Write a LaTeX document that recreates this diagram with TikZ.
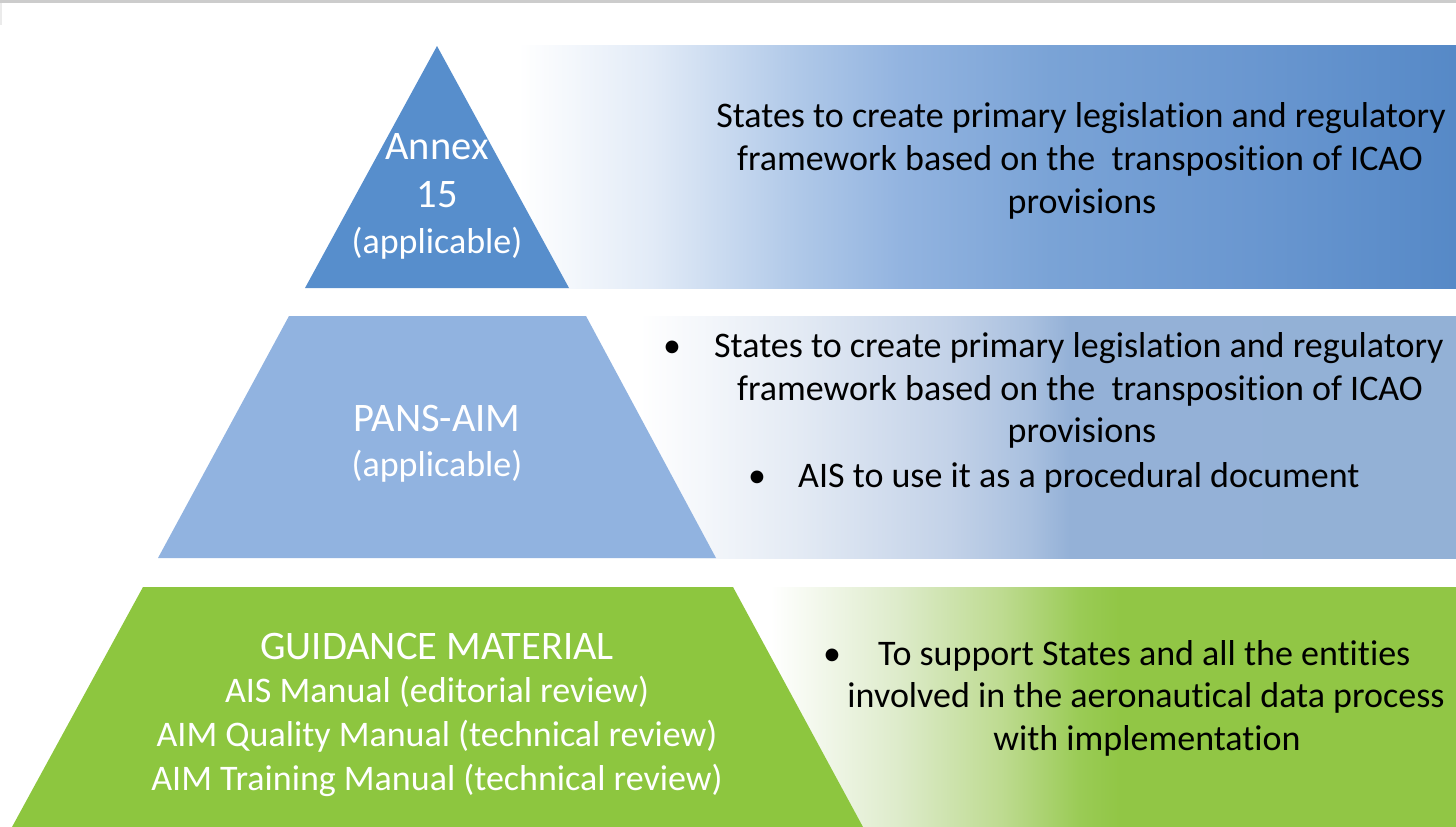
\documentclass[tikz,border=0pt]{standalone}
\usepackage{fontspec}
\setmainfont{Carlito}[Ligatures={NoCommon}]
\definecolor{triA}{HTML}{578ECC}
\definecolor{triB}{HTML}{91B3E0}
\definecolor{triC}{HTML}{8DC63F}
\definecolor{bA1}{HTML}{E2EBF7}
\definecolor{bA2}{HTML}{AFC8E8}
\definecolor{bA3}{HTML}{93B4E0}
\definecolor{bA4}{HTML}{7AA3D6}
\definecolor{bA5}{HTML}{6A97D0}
\definecolor{bA6}{HTML}{5689C7}
\definecolor{bB1}{HTML}{E3EAF4}
\definecolor{bB2}{HTML}{C3D2E8}
\definecolor{bB3}{HTML}{A9C0DF}
\definecolor{bB4}{HTML}{94B1D7}
\definecolor{bB5}{HTML}{93B1D6}
\definecolor{bC1}{HTML}{DDEBCA}
\definecolor{bC2}{HTML}{BEDB91}
\definecolor{bC3}{HTML}{9ACB55}
\definecolor{bC4}{HTML}{91C645}
\pgfdeclarehorizontalshading{bandA}{100bp}{color(0bp)=(white); color(29bp)=(white); color(35.5bp)=(bA1); color(42.8bp)=(bA2); color(47.7bp)=(bA3); color(55.1bp)=(bA4); color(64.9bp)=(bA5); color(75bp)=(bA6); color(100bp)=(bA6)}
\pgfdeclarehorizontalshading{bandB}{100bp}{color(0bp)=(white); color(28.1bp)=(white); color(37.3bp)=(bB1); color(45.9bp)=(bB2); color(50.5bp)=(bB3); color(52.8bp)=(bB4); color(75bp)=(bB5); color(100bp)=(bB5)}
\pgfdeclarehorizontalshading{bandC}{100bp}{color(0bp)=(white); color(27.6bp)=(white); color(36.5bp)=(bC1); color(43.5bp)=(bC2); color(49bp)=(bC3); color(51.8bp)=(bC4); color(75bp)=(bC4); color(100bp)=(bC4)}
\tikzset{
  big/.style={font=\fontsize{36}{43}\selectfont, inner sep=0pt},
  title/.style={font=\fontsize{40.5}{48}\selectfont, inner sep=0pt, text=white, anchor=base},
  wtxt/.style={big, text=white, anchor=base},
  btxt/.style={big, text=black, anchor=base},
  bltxt/.style={big, text=black, anchor=base west},
}
\begin{document}
\begin{tikzpicture}[x=1pt,y=-1pt]
\useasboundingbox (0,0) rectangle (1456,827);
% top grey strip
\fill[black!20] (0,0) rectangle (1456,3);
\fill[black!8] (0,3) rectangle (1.5,25);
% gradient bands
\shade[shading=bandA] (437,45) rectangle (1456,288);
\shade[shading=bandB] (586,316) rectangle (1456,558);
\shade[shading=bandC] (733,587) rectangle (1456,827);
% pyramid levels
\fill[triA] (437,46) -- (569,288) -- (305,288) -- cycle;
\fill[triB] (289,316) -- (586,316) -- (716,558) -- (158,558) -- cycle;
\fill[triC] (143,587) -- (733,587) -- (863,827) -- (12,827) -- cycle;
% level 1 labels
\node[title] (a1) at (437,159) {Annex};
\node[title] (a2) at (437,207) {15};
\node[wtxt] (a3) at (437,253) {(applicable)};
% level 2 labels
\node[title] (p1) at (437,431) {PANS-AIM};
\node[wtxt] (p2) at (437,476) {(applicable)};
% level 3 labels
\node[title] (g1) at (437,659) {GUIDANCE MATERIAL};
\node[wtxt] (g2) at (437,702) {AIS Manual (editorial review)};
\node[wtxt] (g3) at (437,746) {AIM Quality Manual (technical review)};
\node[wtxt] (g4) at (437,790) {AIM Training Manual (technical review)};
% band 1 text
\node[btxt] (r1) at (1081,127) {States to create primary legislation and regulatory};
\node[btxt] (r2) at (1080,170) {framework based on the \ transposition of ICAO};
\node[btxt] (r3) at (1082,213) {provisions};
% band 2 text
\node[btxt] (s0) at (672,357) {•};
\node[bltxt] (s1) at (714,357) {States to create primary legislation and regulatory};
\node[btxt] (s2) at (1080,400) {framework based on the \ transposition of ICAO};
\node[btxt] (s3) at (1082,442) {provisions};
\node[btxt] (s4) at (757,487) {•};
\node[bltxt] (s5) at (798,487) {AIS to use it as a procedural document};
% band 3 text
\node[btxt] (t0) at (832,665) {•};
\node[bltxt] (t1) at (878,665) {To support States and all the entities};
\node[btxt] (t2) at (1146,707) {involved in the aeronautical data process};
\node[btxt] (t3) at (1147,750) {with implementation};
\end{tikzpicture}
\end{document}
